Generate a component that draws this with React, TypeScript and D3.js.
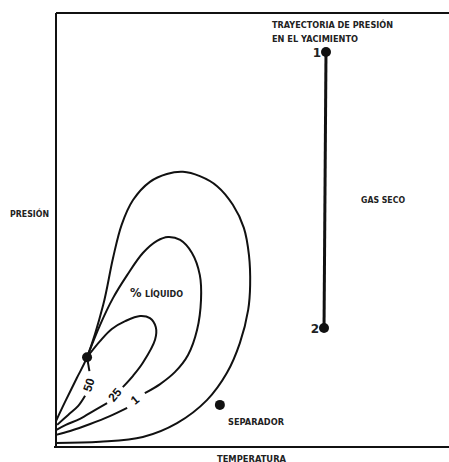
import React, { useEffect } from 'react';
import * as d3 from 'd3';

type Pt = [number, number];

// phase envelope (dew point curve + bubble point branch), temperature / pressure in % of frame
const envelope: Pt[] = [
  [0.0, 0.9], [11.2, 1.2], [22.1, 2.3], [30.8, 5.5], [38.4, 10.8], [43.5, 17.1],
  [46.8, 24.0], [48.9, 31.6], [49.4, 37.3], [49.1, 44.2], [47.8, 50.5], [45.0, 55.8],
  [41.0, 60.1], [36.6, 62.4], [32.3, 63.4], [28.2, 62.9], [23.9, 61.1], [19.6, 56.9],
  [16.7, 51.2], [14.5, 43.5], [12.0, 32.7], [7.9, 20.7], [5.3, 15.9], [2.3, 10.4], [0.0, 6.0],
];

// quality lines (% liquid), split where the label sits
const line1Upper: Pt[] = [
  [7.9, 20.7], [11.2, 28.1], [14.5, 34.3], [18.1, 39.6], [22.1, 44.7], [25.7, 47.5],
  [28.5, 48.4], [31.6, 47.7], [34.6, 44.7], [36.6, 39.6], [36.9, 33.9], [35.9, 27.0],
  [33.6, 21.2], [30.3, 17.3], [26.5, 14.5], [22.6, 12.4],
];
const line1Lower: Pt[] = [[18.1, 9.0], [13.7, 7.1], [8.7, 5.3], [3.6, 3.7], [0.0, 2.8]];

const line25Upper: Pt[] = [
  [7.9, 20.7], [11.2, 24.4], [14.2, 27.2], [17.6, 29.0], [21.4, 30.2], [23.9, 29.7],
  [25.4, 27.6], [25.2, 24.7], [22.1, 19.4], [19.6, 16.4], [17.0, 13.8],
];
const line25Lower: Pt[] = [[13.0, 10.1], [9.9, 8.5], [6.1, 6.5], [2.5, 5.1], [0.0, 3.9]];

const line50Upper: Pt[] = [[7.9, 20.7], [8.5, 17.5]];
const line50Lower: Pt[] = [[7.4, 11.8], [5.6, 9.4], [3.1, 7.4], [0.3, 5.1]];

const qualityLabels = [
  { text: '50', at: [8.4, 14.3] as Pt, angle: -72 },
  { text: '25', at: [15.0, 12.0] as Pt, angle: -50 },
  { text: '1', at: [20.1, 10.8] as Pt, angle: -40 },
];

const criticalPoint: Pt = [7.9, 20.7];
const path1: Pt[] = [[68.7, 91.0], [68.2, 27.4]];
const pathLabels = ['1', '2'];
const separator: Pt = [41.7, 9.7];

const W = 449;
const H = 462;
const font = "'DejaVu Sans', sans-serif";

export default function App() {
  useEffect(() => {
    document.body.style.margin = '0';
  }, []);

  const x = d3.scaleLinear().domain([0, 100]).range([56, 449]);
  const y = d3.scaleLinear().domain([0, 100]).range([447, 13]);

  const line = d3.line<Pt>()
    .x(d => x(d[0]))
    .y(d => y(d[1]))
    .curve(d3.curveCatmullRom.alpha(0.5));

  const curves = [envelope, line1Upper, line1Lower, line25Upper, line25Lower, line50Upper, line50Lower];

  const fit = { lengthAdjust: 'spacingAndGlyphs' as const };

  return (
    <svg width={W} height={H} style={{ display: 'block', background: '#fff' }}>
      {/* frame */}
      <g stroke="#111" strokeWidth={2} fill="none">
        <line x1={x(0)} x2={x(0)} y1={y(100)} y2={y(0)} />
        <line x1={x(0)} x2={x(100)} y1={y(100)} y2={y(100)} />
        <line x1={x(0) - 2} x2={x(100)} y1={y(0)} y2={y(0)} />
      </g>

      {curves.map((c, i) => (
        <path key={i} d={line(c) ?? ''} fill="none" stroke="#111" strokeWidth={2} />
      ))}

      {qualityLabels.map(l => (
        <text
          key={l.text}
          transform={`translate(${x(l.at[0])},${y(l.at[1])}) rotate(${l.angle})`}
          textAnchor="middle"
          dominantBaseline="central"
          fontFamily="'Liberation Sans', Arial, sans-serif"
          fontWeight={700}
          fontSize={12}
          fill="#111"
        >
          {l.text}
        </text>
      ))}

      <circle cx={x(criticalPoint[0])} cy={y(criticalPoint[1])} r={5} fill="#111" />

      {/* reservoir pressure path */}
      <line
        x1={x(path1[0][0])} y1={y(path1[0][1])}
        x2={x(path1[1][0])} y2={y(path1[1][1])}
        stroke="#111" strokeWidth={3}
      />
      {path1.map((p, i) => (
        <g key={i}>
          <circle cx={x(p[0])} cy={y(p[1])} r={5} fill="#111" />
          <text
            x={x(p[0]) - 5}
            y={y(p[1]) + 4.5}
            textAnchor="end"
            fontFamily={font}
            fontWeight={700}
            fontSize={12}
            fill="#222"
          >
            {pathLabels[i]}
          </text>
        </g>
      ))}

      <circle cx={x(separator[0])} cy={y(separator[1])} r={5} fill="#111" />

      <g fontFamily={font} fontWeight={700} fontSize={8.6} fill="#222">
        <text x={272} y={28} textLength={121} {...fit}>TRAYECTORIA DE PRESIÓN</text>
        <text x={272} y={41.5} textLength={86} {...fit}>EN EL YACIMIENTO</text>
        <text x={361} y={202.5} textLength={44} {...fit}>GAS SECO</text>
        <text x={10} y={217} textLength={39} {...fit}>PRESIÓN</text>
        <text x={130} y={296.5} fontSize={11.5}>%</text>
        <text x={145} y={296.5} textLength={38} {...fit}>LÍQUIDO</text>
        <text x={228} y={424.5} textLength={56} {...fit}>SEPARADOR</text>
        <text x={217} y={461.5} textLength={69} {...fit}>TEMPERATURA</text>
      </g>
    </svg>
  );
}
